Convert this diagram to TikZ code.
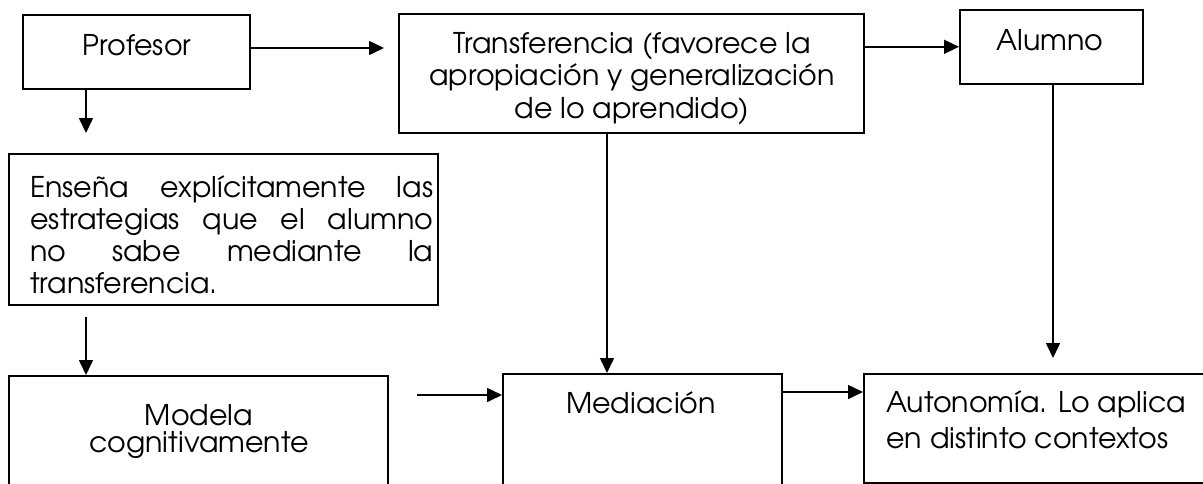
\documentclass[tikz,border=0pt]{standalone}
\usepackage{fontspec}
\setmainfont{TeX Gyre Adventor}
\usetikzlibrary{arrows.meta}
\begin{document}
\begin{tikzpicture}[x=1pt,y=-1pt,
  box/.style={draw=black, line width=1.6pt, rectangle, inner sep=0pt, anchor=north west},
  lbl/.style={inner sep=0pt, font=\fontsize{28.5}{32.5}\selectfont},
  arr/.style={draw=black, line width=1.6pt, -{Triangle[length=15pt,width=14pt]}}]
\clip (0,0) rectangle (1203,483);
\fill[white] (0,0) rectangle (1203,483);
% boxes
\node[box, minimum width=227pt, minimum height=74pt] (prof) at (22,14) {};
\node[box, minimum width=465pt, minimum height=119pt] (trans) at (398,13) {};
\node[box, minimum width=183pt, minimum height=74pt] (alum) at (959,9) {};
\node[box, minimum width=429pt, minimum height=151pt] (ense) at (8,153) {};
\node[box, minimum width=379pt, minimum height=130pt] (model) at (8,375) {};
\node[box, minimum width=279pt, minimum height=130pt] (med) at (502,373) {};
\node[box, minimum width=345pt, minimum height=109pt] (auto) at (863,373) {};
% labels
\node[lbl, anchor=base] (tprof) at (137,55) {Profesor};
\node[lbl, anchor=base, align=center] (ttrans) at (632,118) {Transferencia (favorece la\\apropiación y generalización\\de lo aprendido)};
\node[lbl, anchor=base] (talum) at (1050,50) {Alumno};
\begin{scope}
\clip (8,153) rectangle (437,296);
\node[lbl, anchor=base west, text width=403pt, align=justify, font=\fontsize{28.5}{32}\selectfont] (tense) at (30,197) {\hyphenpenalty=10000 Enseña explícitamente las\linebreak estrategias que el alumno\linebreak no sabe mediante la\linebreak transferencia.};
\end{scope}
\node[lbl, anchor=base, align=center, font=\fontsize{28.5}{27}\selectfont] (tmodel) at (199,452) {Modela\\cognitivamente};
\node[lbl, anchor=base] (tmed) at (641,413) {Mediación};
\node[lbl, anchor=base west, align=left, font=\fontsize{28.5}{36}\selectfont] (tauto) at (886,448) {Autonomía. Lo aplica\\en distinto contextos};
% connector end points
\coordinate (c1) at (384,48);
\coordinate (c2) at (86,133);
\coordinate (c3) at (86,317);
\coordinate (c4) at (417,395);
\coordinate (c5) at (1053,358);
% connectors
\draw[arr] (prof.east |- c1) -- (c1);
\draw[arr] (trans.east |- alum.west) -- (alum.west);
\draw[arr] (prof.south -| c2) -- (c2);
\draw[arr] (c3) -- (model.north -| c3);
\draw[arr] (trans.south -| 607,0) -- (med.north -| 607,0);
\draw[arr] (alum.south -| c5) -- (c5);
\draw[arr] (c4) -- (med.west |- c4);
\draw[arr] (med.east |- 0,392) -- (auto.west |- 0,392);
\end{tikzpicture}
\end{document}
